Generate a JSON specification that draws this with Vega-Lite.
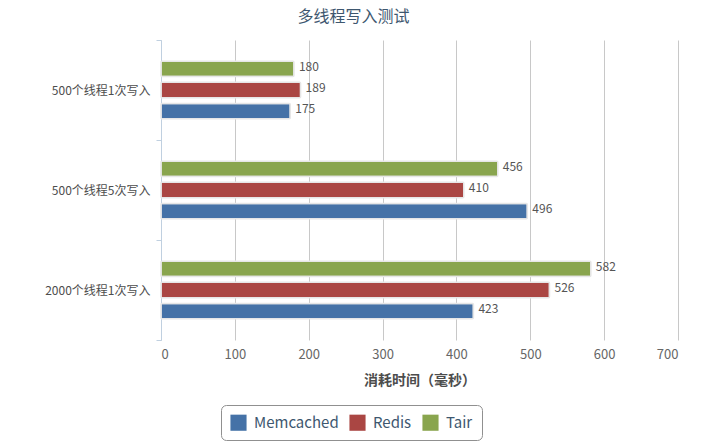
{
  "$schema": "https://vega.github.io/schema/vega-lite/v6.json",
  "width": 517,
  "height": 300,
  "autosize": {"type": "none"},
  "padding": {"left": 161, "top": 40, "right": 28, "bottom": 102},
  "background": "white",
  "title": {
    "text": "多线程写入测试",
    "font": "Noto Sans CJK SC",
    "fontSize": 16,
    "fontWeight": "normal",
    "color": "#3E576F",
    "anchor": "middle",
    "dx": -66,
    "offset": 9
  },
  "config": {
    "view": {"stroke": null},
    "font": "Noto Sans CJK SC"
  },
  "data": {
    "values": [
      {"test": "500个线程1次写入", "server": "Memcached", "ms": 175},
      {"test": "500个线程1次写入", "server": "Redis", "ms": 189},
      {"test": "500个线程1次写入", "server": "Tair", "ms": 180},
      {"test": "500个线程5次写入", "server": "Memcached", "ms": 496},
      {"test": "500个线程5次写入", "server": "Redis", "ms": 410},
      {"test": "500个线程5次写入", "server": "Tair", "ms": 456},
      {"test": "2000个线程1次写入", "server": "Memcached", "ms": 423},
      {"test": "2000个线程1次写入", "server": "Redis", "ms": 526},
      {"test": "2000个线程1次写入", "server": "Tair", "ms": 582}
    ]
  },
  "encoding": {
    "y": {
      "field": "test",
      "type": "nominal",
      "sort": ["500个线程1次写入", "500个线程5次写入", "2000个线程1次写入"],
      "scale": {"paddingInner": 0, "paddingOuter": 0},
      "title": null,
      "axis": {
        "tickBand": "extent",
        "domainColor": "#C0D0E0",
        "tickColor": "#C0D0E0",
        "tickSize": 5,
        "labelFontSize": 12,
        "labelColor": "#4d4d4d",
        "labelPadding": 6
      }
    },
    "yOffset": {
      "field": "server",
      "type": "nominal",
      "sort": ["Tair", "Redis", "Memcached"],
      "scale": {"paddingInner": 0.27, "paddingOuter": 1.07}
    },
    "x": {
      "field": "ms",
      "type": "quantitative",
      "scale": {"domain": [0, 700]},
      "title": "消耗时间（毫秒）",
      "axis": {
        "values": [0, 100, 200, 300, 400, 500, 600, 700],
        "domain": false,
        "ticks": false,
        "gridColor": "#C8C8C8",
        "labelFontSize": 13,
        "labelColor": "#666666",
        "labelPadding": 8,
        "titleFontSize": 14,
        "titleFontWeight": "bold",
        "titleColor": "#4d4d4d",
        "titlePadding": 12
      }
    }
  },
  "layer": [
    {
      "mark": {"type": "bar", "stroke": "#e6e6e6", "strokeWidth": 1.5, "cornerRadius": 1},
      "encoding": {
        "color": {
          "field": "server",
          "type": "nominal",
          "sort": ["Memcached", "Redis", "Tair"],
          "scale": {"domain": ["Memcached", "Redis", "Tair"], "range": ["#4572A7", "#AA4643", "#89A54E"]},
          "legend": {
            "title": null,
            "orient": "none",
            "direction": "horizontal",
            "legendX": 60,
            "legendY": 365,
            "strokeColor": "#909090",
            "cornerRadius": 5,
            "padding": 9,
            "symbolType": "square",
            "symbolSize": 260,
            "symbolStrokeWidth": 0,
            "symbolOpacity": 1,
            "labelFontSize": 15,
            "labelColor": "#3E576F",
            "columnPadding": 10,
            "labelOffset": 7
          }
        }
      }
    },
    {
      "mark": {"type": "text", "align": "left", "dx": 5, "dy": -2, "fontSize": 12, "color": "#555555"},
      "encoding": {"text": {"field": "ms", "type": "quantitative"}}
    }
  ]
}
